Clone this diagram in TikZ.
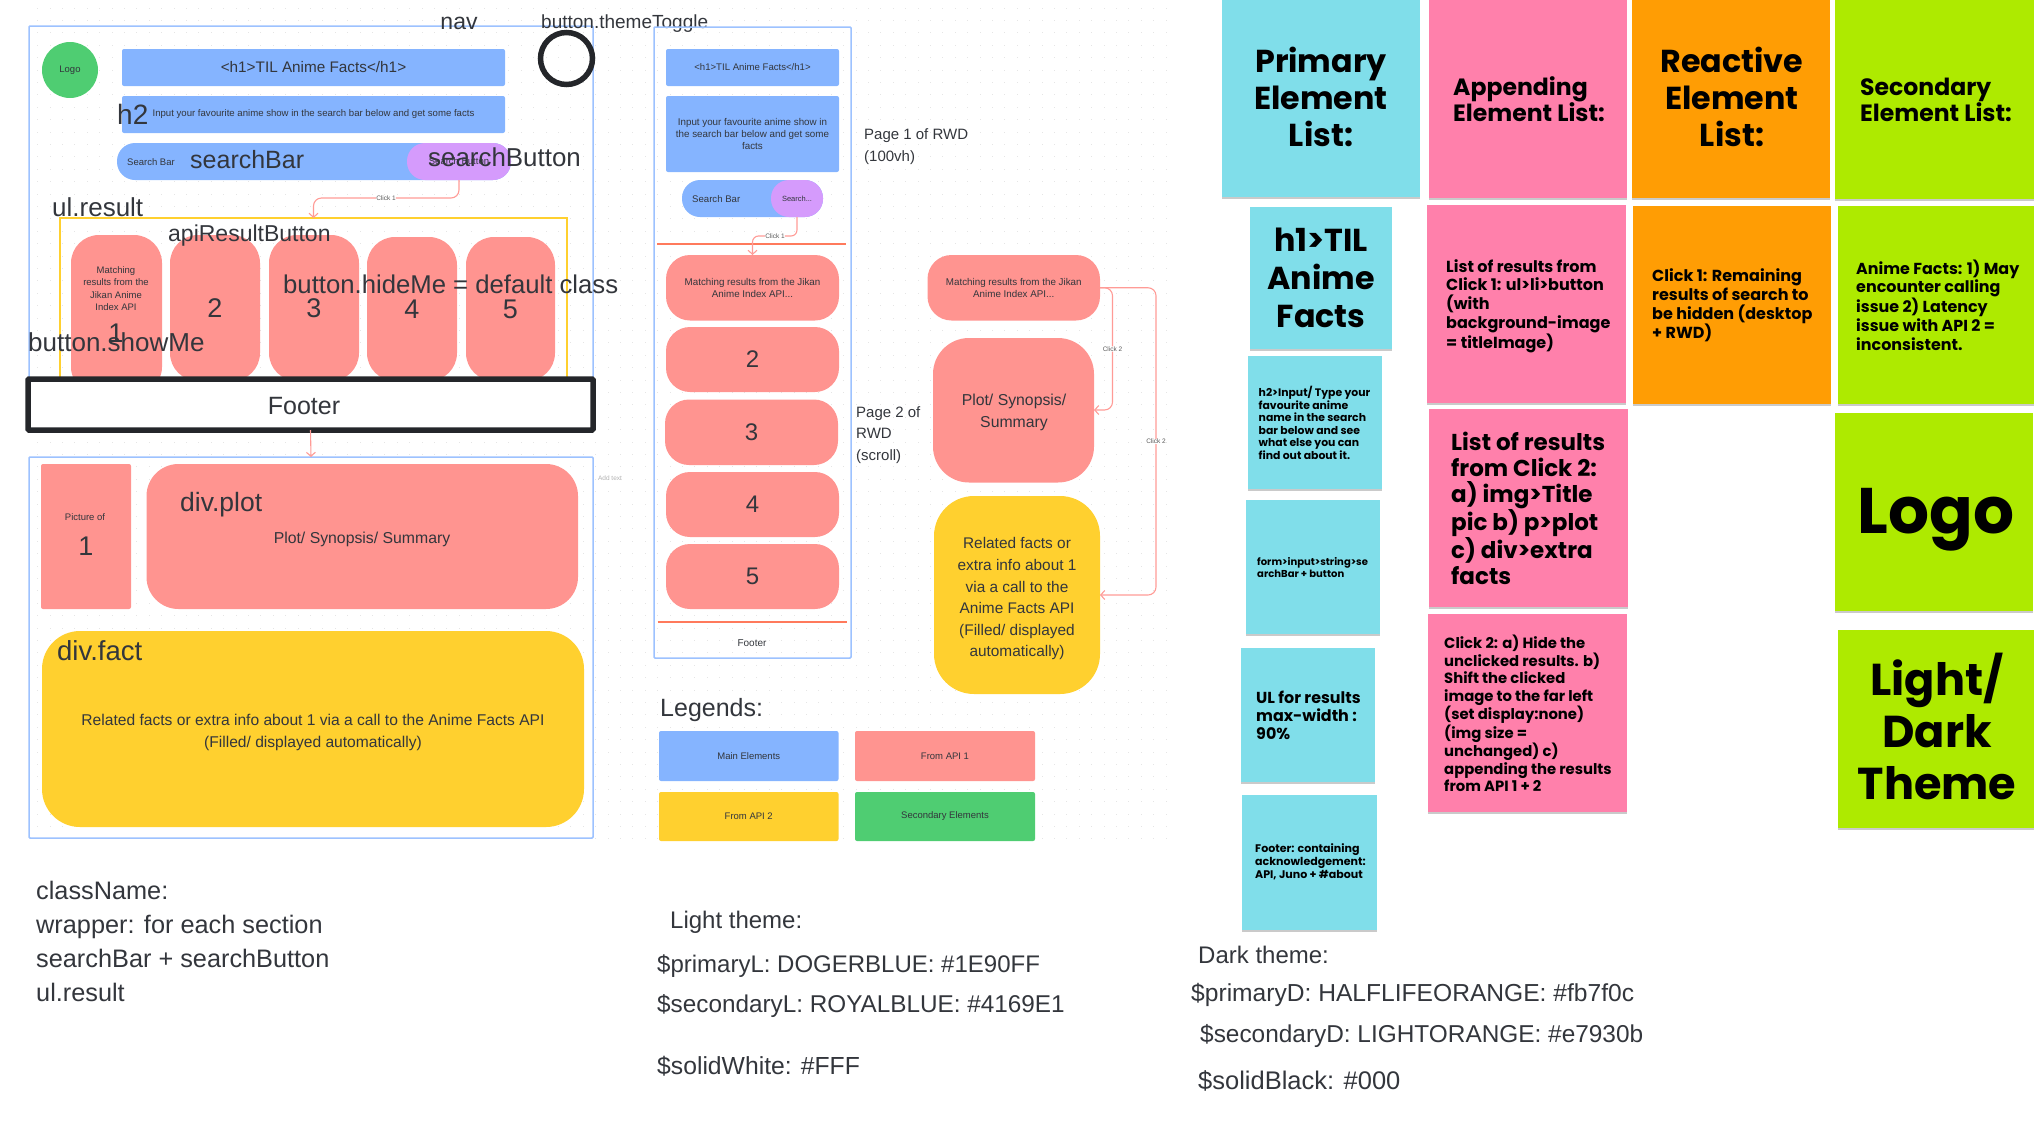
\documentclass[tikz,border=0pt]{standalone}
\usepackage{fontspec}
\setmainfont{Liberation Sans}
\newfontfamily\stk{Poppins}[Scale=0.92]
\usetikzlibrary{arrows.meta,shadows}
\definecolor{txt}{HTML}{33363C}
\definecolor{mainblue}{HTML}{85B4FF}
\definecolor{framebl}{HTML}{9DC2FF}
\definecolor{api1}{HTML}{FF9490}
\definecolor{api2}{HTML}{FFD02F}
\definecolor{sec}{HTML}{4FCD72}
\definecolor{purp}{HTML}{D59BFC}
\definecolor{cyanN}{HTML}{80DEEA}
\definecolor{pinkN}{HTML}{FF80AB}
\definecolor{orgN}{HTML}{FF9D04}
\definecolor{grnN}{HTML}{AEEA00}
\definecolor{redln}{HTML}{FF7A5C}
\definecolor{conn}{HTML}{FF9B96}
\definecolor{blk}{HTML}{24262A}
\newcommand{\F}[2]{\fontsize{#1}{#2}\selectfont}
\newcommand{\bx}[7][]{%
  \pgfmathsetmacro\cx{(#3+#5)/2}\pgfmathsetmacro\cy{(#4+#6)/2}%
  \pgfmathsetmacro\bw{#5-#3}\pgfmathsetmacro\bh{#6-#4}%
  \node[inner sep=0,outer sep=0,minimum width=\bw pt,minimum height=\bh pt,text=txt,align=center,#1] (#2) at (\cx,\cy) {#7};}
\tikzset{
  lb/.style={anchor=west,inner sep=0,text=txt,align=left},
  ct/.style={inner sep=0,text=txt,align=center},
  wframe/.style={draw=framebl,line width=1.5pt,rounded corners=1pt},
  bluebox/.style={fill=mainblue,rounded corners=2pt},
  apibox/.style={fill=api1,rounded corners=#1},
  apibox/.default=28pt,
  yelbox/.style={fill=api2,rounded corners=#1},
  note/.style={fill=#1,drop shadow={shadow xshift=0pt,shadow yshift=-2pt,opacity=.35,fill=black!60}},
  conline/.style={draw=conn,line width=1.1pt,rounded corners=8pt},
  tip/.style={-{Straight Barb[length=4pt,width=9pt]}},
  clk/.style={inner sep=0,font=\F{6.5}{8},text=black!65},
  nt/.style 2 args={anchor=west,inner sep=0,align=left,text=black,font=\stk\bfseries\F{#1}{#2}},
  nc/.style 2 args={inner sep=0,align=center,text=black,font=\stk\bfseries\F{#1}{#2}}
}
\begin{document}
\begin{tikzpicture}[x=1pt,y=-1pt]
\useasboundingbox (0,0) rectangle (2034,1141);
% dot grid
\foreach \i in {0,...,91}{\foreach \j in {0,...,67}{
  \fill[black!10] ({1166-\i*12.4-.5},{8+\j*12.4-.5}) rectangle ++(1,1);}}

% ---------- left desktop wireframe, page 1
\bx[wframe]{fa}{29}{26}{593}{400}{}
\bx[fill=sec,circle,minimum size=56pt,font=\F{9.5}{12}]{logo}{42}{42}{98}{98}{Logo}
\bx[bluebox,font=\F{15.3}{18}]{ha}{122}{49}{505}{86}{<h1>TIL Anime Facts</h1>}
\bx[bluebox,font=\F{9.6}{12}]{hb}{122}{96}{505}{133}{Input your favourite anime show in the search bar below and get some facts}
\bx[fill=mainblue,rounded corners=18pt]{sa}{117}{143}{511}{180}{}
\bx[fill=purp,rounded corners=18pt,font=\F{9.5}{12}]{sb}{407}{143}{511}{180}{Search Button}
\node[lb,font=\F{9.5}{12}] (sat) at (127,162) {Search Bar};
\bx[draw=api2,line width=1.5pt]{ul}{60}{218}{567}{400}{}
\bx[apibox]{ra}{71}{235}{162}{395}{}
\bx[apibox,font=\F{27}{32}]{rb}{170}{235}{260}{381}{2}
\bx[apibox,font=\F{27}{32}]{rc}{269}{235}{359}{381}{3}
\bx[apibox,font=\F{27}{32}]{rd}{367}{237}{457}{381}{4}
\bx[apibox,font=\F{27}{32}]{re}{466}{237}{555}{381}{5}
\node[ct,font=\F{9.5}{12.3}] (rat) at (116,288.5) {Matching\\results from the\\Jikan Anime\\Index API};
\node[ct,font=\F{27}{32}] (ran) at (116,333) {1};
\bx[draw=blk,line width=5.5pt,fill=white,rounded corners=1pt]{fo}{28}{379}{593}{430}{}
\node[ct,font=\F{25}{30}] (fot) at (304,406) {Footer};
\node[clk] (clka) at (386,198) {Click 1};
\draw[conline] (sb.south) |- (clka.east);
\draw[conline,tip] (clka.west) -| (ul.north);
% overlay labels
\node[ct,font=\F{23}{28}] (nav) at (459,23) {nav};
\node[lb,font=\F{19}{22}] (tgl) at (541,24) {button.themeToggle};
\bx[circle,draw=blk,line width=5.5pt,minimum size=52pt]{tog}{540}{32}{593}{85}{}
\node[lb,font=\F{28}{32}] (lh) at (117,114) {h2};
\node[lb,font=\F{25}{32}] (lsb) at (190,160) {searchBar};
\node[lb,font=\F{25.9}{30}] (lsbt) at (428,157) {searchButton};
\node[lb,font=\F{26}{30}] (lul) at (52,207) {ul.result};
\node[lb,font=\F{23}{29}] (lapi) at (168,236) {apiResultButton};
\node[lb,font=\F{25.7}{30}] (lhide) at (283,284) {button.hideMe = default class};
\node[lb,font=\F{26}{30}] (lshow) at (28,342) {button.showMe};

% ---------- left desktop wireframe, page 2
\bx[wframe]{fb}{29}{457}{593}{838}{}
\bx[apibox=2pt]{pi}{41}{464}{131}{609}{}
\node[ct,font=\F{9.5}{12}] (pit) at (85,517) {Picture of};
\node[ct,font=\F{27}{32}] (pin) at (86,546) {1};
\bx[apibox=32pt]{pl}{146.5}{464}{578}{609}{}
\node[ct,font=\F{15.8}{18}] (plt) at (362,539) {Plot/ Synopsis/ Summary};
\node[lb,font=\F{26.5}{30}] (lplot) at (180,505) {div.plot};
\bx[yelbox=38pt]{fc}{42}{631}{584}{827}{}
\node[ct,font=\F{15.6}{22}] (fct) at (313,732) {Related facts or extra info about 1 via a call to the Anime Facts API\\(Filled/ displayed automatically)};
\node[lb,font=\F{27.5}{30}] (lfact) at (57,651) {div.fact};
\node[ct,font=\F{6.5}{8},text=black!30] (addt) at (610,478) {Add text};
\draw[conline,tip] (fo.south) -- (fb.north);

% ---------- middle mobile wireframe
\bx[wframe]{mf}{654}{27}{851}{658}{}
\bx[bluebox,font=\F{9.6}{12}]{mha}{666}{49}{839}{86}{<h1>TIL Anime Facts</h1>}
\bx[bluebox,font=\F{9.8}{12.4}]{mhb}{666}{96}{839}{172}{Input your favourite anime show in\\the search bar below and get some\\facts}
\bx[fill=mainblue,rounded corners=18pt]{msa}{682}{180}{823}{217}{}
\bx[fill=purp,rounded corners=18pt,font=\F{7.5}{10}]{msb}{771}{180}{823}{217}{Search...}
\node[lb,font=\F{9.6}{12}] (msat) at (692,199) {Search Bar};
\coordinate (mla) at (657,244); \coordinate (mlb) at (846,244);
\draw[draw=redln,line width=1.4pt] (mla) -- (mlb);
\coordinate (mlc) at (657.5,622); \coordinate (mld) at (847,622);
\draw[draw=redln,line width=1.4pt] (mlc) -- (mld);
\bx[apibox=24pt,font=\F{9.8}{12.4}]{mra}{666}{255}{839}{320.5}{Matching results from the Jikan\\Anime Index API...}
\bx[apibox=24pt,font=\F{24}{28}]{mrb}{666}{327}{839}{392}{2}
\bx[apibox=24pt,font=\F{24}{28}]{mrc}{665}{399.5}{838}{465}{3}
\bx[apibox=24pt,font=\F{24}{28}]{mrd}{666}{472}{839}{537}{4}
\bx[apibox=24pt,font=\F{24}{28}]{mre}{666}{544}{839}{609}{5}
\node[ct,font=\F{10}{12}] (mft) at (752,643) {Footer};
\node[clk] (clkb) at (775,236) {Click 1};
\draw[conline,rounded corners=6pt] (msb.south) |- (clkb.east);
\draw[conline,rounded corners=6pt,tip] (clkb.west) -| (mra.north);
\node[lb,font=\F{15}{22}] (pga) at (864,147) {Page 1 of RWD\\(100vh)};
\node[lb,font=\F{15}{21.5}] (pgb) at (856,435) {Page 2 of\\RWD\\(scroll)};

% ---------- middle right detail
\bx[apibox=24pt,font=\F{9.8}{12.4}]{dra}{927.5}{255}{1100}{320.5}{Matching results from the Jikan\\Anime Index API...}
\bx[apibox=36pt]{dpl}{933}{338}{1094}{482.5}{}
\node[ct,font=\F{15.8}{21.5}] (dplt) at (1014,412.5) {Plot/ Synopsis/\\Summary};
\bx[yelbox=40pt]{dfc}{934}{496}{1100}{694}{}
\node[ct,font=\F{15.4}{21.6}] (dfct) at (1017,599) {Related facts or\\extra info about 1\\via a call to the\\Anime Facts API\\(Filled/ displayed\\automatically)};
\node[clk] (clkc) at (1112.5,349) {Click 2};
\node[clk] (clkd) at (1156,441.5) {Click 2};
\coordinate (dpy) at (0,410); \coordinate (dfy) at (0,595);
\coordinate (dp) at (dpl.east |- dpy);
\coordinate (df) at (dfc.east |- dfy);
\draw[conline] (dra.east) -| (clkc.north);
\draw[conline,tip] (clkc.south) |- (dp);
\draw[conline] (dra.east) -| (clkd.north);
\draw[conline,tip] (clkd.south) |- (df);

% ---------- legends
\node[lb,font=\F{25}{30}] (leg) at (660,710) {Legends:};
\bx[bluebox,font=\F{9.5}{12}]{legA}{659}{731}{838.5}{781}{Main Elements}
\bx[apibox=2pt,font=\F{9.5}{12}]{legB}{855}{731}{1035}{781}{From API 1}
\bx[yelbox=2pt,font=\F{9.5}{12}]{legC}{659}{792}{838.5}{841}{From API 2}
\bx[fill=sec,rounded corners=2pt,font=\F{9.5}{12}]{legD}{855}{792}{1035}{841}{Secondary Elements}

% ---------- text blocks
\node[lb,font=\F{25.3}{34}] (cls) at (36,941) {className:\\wrapper: for each section\\searchBar + searchButton\\ul.result};
\node[lb,font=\F{24}{28}] (lta) at (670,922) {Light theme:};
\node[lb,font=\F{24}{30}] (ltb) at (657,966) {\$primaryL: DOGERBLUE: \#1E90FF};
\node[lb,font=\F{24.3}{30}] (ltc) at (657,1006) {\$secondaryL: ROYALBLUE: \#4169E1};
\node[lb,font=\F{24.7}{30}] (ltd) at (657,1066) {\$solidWhite: \#FFF};
\node[lb,font=\F{24}{28}] (dta) at (1198,955) {Dark theme:};
\node[lb,font=\F{24.6}{30}] (dtb) at (1191,995) {\$primaryD: HALFLIFEORANGE: \#fb7f0c};
\node[lb,font=\F{24.4}{30}] (dtc) at (1200,1036) {\$secondaryD: LIGHTORANGE: \#e7930b};
\node[lb,font=\F{25.5}{30}] (dtd) at (1198,1081) {\$solidBlack: \#000};

% ---------- sticky notes
\bx[note=cyanN]{nA}{1222}{-4}{1420}{197}{}
\bx[note=pinkN]{nB}{1429}{-4}{1627}{198}{}
\bx[note=orgN]{nC}{1632}{-4}{1830}{198}{}
\bx[note=grnN]{nD}{1835}{-4}{2038}{199}{}
\bx[note=cyanN]{nE}{1250}{207}{1392}{349}{}
\bx[note=cyanN]{nF}{1248}{356}{1382}{489}{}
\bx[note=cyanN]{nG}{1246}{500}{1380}{634}{}
\bx[note=cyanN]{nH}{1241}{648}{1375}{782}{}
\bx[note=cyanN]{nI}{1242}{795}{1377}{930}{}
\bx[note=pinkN]{nJ}{1427}{205}{1626}{403}{}
\bx[note=pinkN]{nK}{1429}{409}{1628}{607}{}
\bx[note=pinkN]{nL}{1428}{614}{1627}{812}{}
\bx[note=orgN]{nM}{1633}{206}{1831}{404}{}
\bx[note=grnN]{nN}{1838}{206}{2038}{404}{}
\bx[note=grnN]{nO}{1835}{413}{2033}{611}{}
\bx[note=grnN]{nP}{1838}{630}{2038}{828}{}
\node[nc={34.5}{37}] (tA) at (1321,97) {Primary\\Element\\List:};
\node[nt={25.6}{26}] (tB) at (1453,99) {Appending\\Element List:};
\node[nc={34.5}{37}] (tC) at (1732,97) {Reactive\\Element\\List:};
\node[nt={25.6}{26}] (tD) at (1860,100) {Secondary\\Element List:};
\node[nc={34.5}{38}] (tE) at (1321,278) {h1>TIL\\Anime\\Facts};
\node[nt={11.8}{12.5}] (tF) at (1258.5,423) {h2>Input/ Type your\\favourite anime\\name in the search\\bar below and see\\what else you can\\find out about it.};
\node[nt={10.9}{11.5}] (tG) at (1257,567.5) {form>input>string>se\\archBar + button};
\node[nt={17.3}{18}] (tH) at (1256,715) {UL for results\\max-width :\\90\%};
\node[nt={12}{13}] (tI) at (1255,862) {Footer: containing\\acknowledgement:\\API, Juno + \#about};
\node[nt={17.4}{18.8}] (tJ) at (1446,306) {List of results from\\Click 1: ul>li>button\\(with\\background-image\\= titleImage)};
\node[nt={25}{26}] (tK) at (1451,508.5) {List of results\\from Click 2:\\a) img>Title\\pic b) p>plot\\c) div>extra\\facts};
\node[nt={16.1}{17.4}] (tL) at (1444,713.5) {Click 2: a) Hide the\\unclicked results. b)\\Shift the clicked\\image to the far left\\(set display:none)\\(img size =\\unchanged) c)\\appending the results\\from API 1 + 2};
\node[nt={17.4}{18.8}] (tM) at (1652,305.5) {Click 1: Remaining\\results of search to\\be hidden (desktop\\+ RWD)};
\node[nt={17.3}{18.6}] (tN) at (1856,305) {Anime Facts: 1) May\\encounter calling\\issue 2) Latency\\issue with API 2 =\\inconsistent.};
\node[nc={70}{70}] (tO) at (1936,520) {Logo};
\node[nc={48.5}{52}] (tP) at (1937,726) {Light/\\Dark\\Theme};
\end{tikzpicture}
\end{document}
